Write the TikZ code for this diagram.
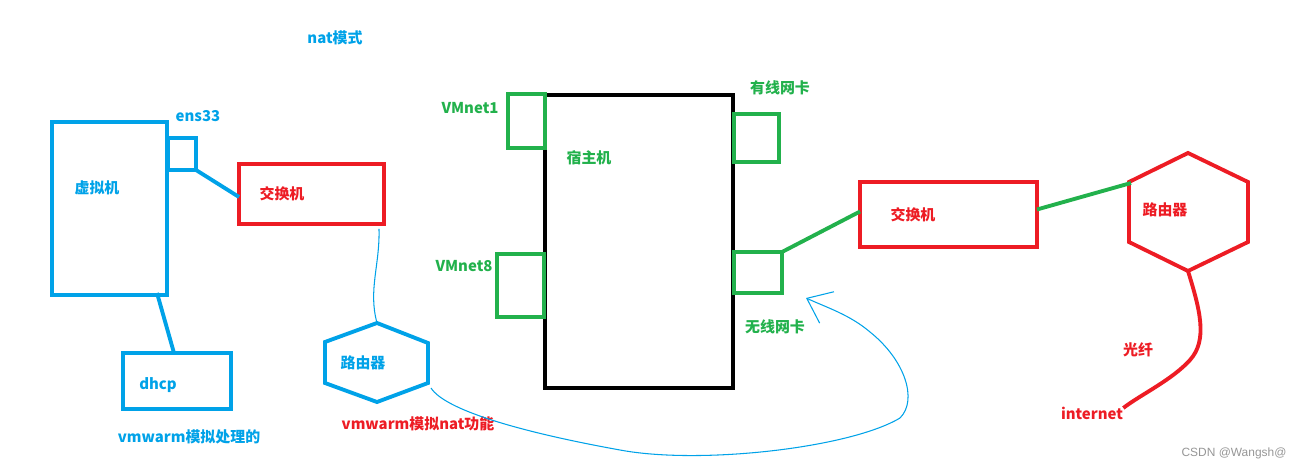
\documentclass[tikz,border=0pt]{standalone}
\usepackage{fontspec}
\setmainfont{Noto Sans CJK SC}
\newfontfamily\markfont{Liberation Sans}
\usetikzlibrary{arrows.meta, calc, positioning}
\definecolor{paintblue}{RGB}{0,162,232}
\definecolor{paintred}{RGB}{237,28,36}
\definecolor{paintgreen}{RGB}{34,177,76}
\definecolor{markgray}{RGB}{150,150,150}
\tikzset{
	box/.style={draw, line width=2.2pt, inner sep=0pt, outer sep=0pt},
	txt/.style={font=\fontsize{8.5}{10}\selectfont\bfseries, inner sep=0pt},
	pen/.style={line width=2.2pt},
	thinpen/.style={draw=paintblue, line width=0.6pt}
}

\begin{document}
\begin{tikzpicture}[x=0.02cm, y=-0.02cm]
	\useasboundingbox (0,0) rectangle (1301,472);
	% virtual machine side
	\node[box, draw=paintblue, minimum width=2.30cm, minimum height=3.46cm] (vm) at (109.5,208.5) {};
	\node[box, draw=paintblue, minimum width=0.56cm, minimum height=0.64cm] (ens) at (182,154) {};
	\node[box, draw=paintred, minimum width=2.90cm, minimum height=1.20cm] (sw1) at (311.5,194) {};
	\node[box, draw=paintblue, minimum width=2.16cm, minimum height=1.12cm] (dhcp) at (177,381) {};
	\draw[pen, draw=paintblue] (ens.south east) -- ($(sw1.west)+(0,3)$);
	\draw[pen, draw=paintblue] ($(vm.south east)+(-10,-2)$) -- ($(dhcp.north)+(-3,0)$);
	% nat router
	\draw[pen, draw=paintblue] (377,323) coordinate (hbT) -- (428,343) -- (428,383) coordinate (hbR)
		-- (377,402) -- (325,383) -- (325,342) -- cycle;
	\draw[thinpen] ($(sw1.south east)+(-5,5)$) .. controls (380,265) and (368,290) .. (hbT);
	% host machine
	\node[box, draw=black, minimum width=3.76cm, minimum height=5.86cm] (host) at (639,241.5) {};
	\node[box, draw=paintgreen, minimum width=0.74cm, minimum height=1.08cm] (vmnet1) at (526.5,121) {};
	\node[box, draw=paintgreen, minimum width=0.94cm, minimum height=1.26cm] (vmnet8) at (520.5,285.5) {};
	\node[box, draw=paintgreen, minimum width=0.90cm, minimum height=0.96cm] (wired) at (756.5,138) {};
	\node[box, draw=paintgreen, minimum width=0.96cm, minimum height=0.82cm] (wifi) at (758,272.5) {};
	% outside
	\node[box, draw=paintred, minimum width=3.54cm, minimum height=1.30cm] (sw2) at (948.5,214.5) {};
	\draw[pen, draw=paintred] (1188,153) -- (1248,182) -- (1248,242) -- (1188,271) coordinate (hrB)
		-- (1129,242) -- (1129,182) coordinate (hrL) -- cycle;
	\draw[pen, draw=paintgreen] (wifi.north east) -- ($(sw2.west)+(0,-3)$);
	\draw[pen, draw=paintgreen] ($(sw2.east)+(0,-5)$) -- ($(hrL)+(2,1)$);
	% texts
	\node[txt, text=paintblue] (title) at (335,38) {nat模式};
	\node[txt, text=paintblue] (vmtxt) at (97,188) {虚拟机};
	\node[txt, text=paintblue] (enstxt) at (198,116) {ens33};
	\node[txt, text=paintred] (sw1txt) at (282,194) {交换机};
	\node[txt, text=paintblue] (dhcptxt) at (158,385) {dhcp};
	\node[txt, text=paintblue] (simtxt) at (189,437) {vmwarm模拟处理的};
	\node[txt, text=paintblue] (rbtxt) at (363,363) {路由器};
	\node[txt, text=paintred] (nattxt) at (418,424) {vmwarm模拟nat功能};
	\node[txt, text=paintgreen] (n1txt) at (470,108) {VMnet1};
	\node[txt, text=paintgreen] (n8txt) at (464,266) {VMnet8};
	\node[txt, text=paintgreen] (hosttxt) at (589,158) {宿主机};
	\node[txt, text=paintgreen] (wiredtxt) at (780,88) {有线网卡};
	\node[txt, text=paintgreen] (wifitxt) at (775,327) {无线网卡};
	\node[txt, text=paintred] (sw2txt) at (913,215) {交换机};
	\node[txt, text=paintred] (rrtxt) at (1165,210) {路由器};
	\node[txt, text=paintred] (fibertxt) at (1138,350) {光纤};
	\node[txt, text=paintred] (nettxt) at (1092,413) {internet};
	\node[font=\markfont\fontsize{6.8}{8}\selectfont, text=markgray, inner sep=0pt] (mark) at (1234,453) {CSDN @Wangsh@};
	% fibre and nat path
	\draw[pen, draw=paintred] (hrB) .. controls (1200,310) and (1208,340) .. (1190,360)
		.. controls (1172,380) and (1140,395) .. ($(nettxt.east)+(0,-5)$);
	\draw[thinpen, -{Straight Barb[length=4.4mm, width=6.9mm]}] ($(hbR)+(3,5)$) .. controls (445,410) and (520,432) .. (620,450)
		.. controls (700,465) and (850,448) .. (900,418)
		.. controls (918,400) and (905,360) .. (870,332)
		.. controls (850,315) and (828,308) .. (806,298);
\end{tikzpicture}
\end{document}
